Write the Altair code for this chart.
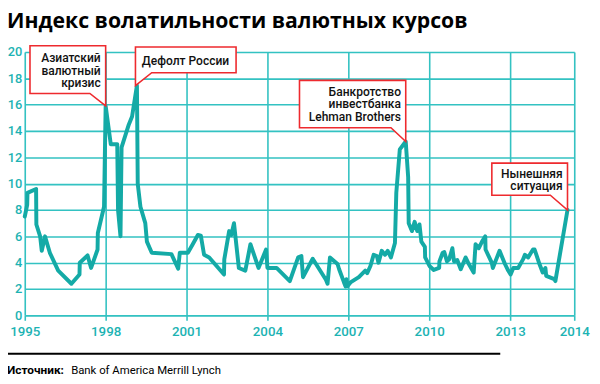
import altair as alt
import pandas as pd

# ---- data (decimal year on the chart's own axis, index value)
years = [1995.00, 1995.09, 1995.10, 1995.42, 1995.43, 1995.57, 1995.63, 1995.75, 1995.93, 1996.24,
         1996.73, 1997.03, 1997.04, 1997.33, 1997.46, 1997.70, 1997.71, 1997.94, 1998.00, 1998.19,
         1998.43, 1998.46, 1998.55, 1998.59, 1998.86, 1998.98, 1999.16, 1999.19, 1999.29, 1999.47,
         1999.53, 1999.71, 2000.44, 2000.69, 2000.75, 2001.05, 2001.23, 2001.42, 2001.53, 2001.65,
         2001.84, 2002.39, 2002.40, 2002.58, 2002.66, 2002.76, 2002.94, 2003.18, 2003.37, 2003.67,
         2003.95, 2004.00, 2004.34, 2004.83, 2005.14, 2005.26, 2005.32, 2005.68, 2006.17, 2006.23,
         2006.32, 2006.60, 2006.66, 2006.84, 2006.90, 2006.93, 2006.96, 2007.08, 2007.39, 2007.63,
         2007.70, 2007.82, 2007.94, 2008.06, 2008.12, 2008.24, 2008.36, 2008.46, 2008.58, 2008.73,
         2008.78, 2008.91, 2009.13, 2009.22, 2009.24, 2009.36, 2009.46, 2009.56, 2009.64, 2009.71,
         2009.84, 2009.85, 2010.01, 2010.17, 2010.37, 2010.38, 2010.50, 2010.56, 2010.66, 2010.74,
         2010.86, 2010.92, 2011.04, 2011.17, 2011.35, 2011.47, 2011.65, 2011.72, 2011.84, 2011.96,
         2012.08, 2012.09, 2012.32, 2012.36, 2012.61, 2012.81, 2012.93, 2013.02, 2013.12, 2013.30,
         2013.48, 2013.55, 2013.67, 2013.85, 2013.91, 2014.09, 2014.21, 2014.31, 2014.34, 2014.64,
         2014.68, 2015.13]
values = [7.5, 8.4, 9.3, 9.6, 6.9, 6.0, 4.9, 6.0, 4.75, 3.4,
          2.4, 3.1, 4.0, 4.55, 3.6, 5.0, 6.25, 8.25, 15.9, 13.0,
          13.0, 8.0, 6.0, 12.75, 14.5, 15.1, 17.45, 10.0, 8.25, 7.0,
          5.6, 4.75, 4.65, 3.55, 4.75, 4.75, 5.4, 6.1, 6.05, 4.6,
          4.4, 3.1, 4.25, 6.4, 6.1, 7.0, 3.6, 3.4, 5.4, 3.6,
          5.0, 3.6, 3.6, 2.6, 4.4, 4.5, 2.9, 4.3, 2.7, 2.4,
          4.4, 3.9, 3.5, 2.5, 2.2, 2.75, 2.2, 2.5, 2.9, 3.4,
          3.2, 3.75, 4.6, 4.5, 4.0, 4.9, 4.6, 4.9, 4.4, 5.5,
          9.3, 12.6, 13.2, 10.5, 7.0, 6.4, 7.1, 6.4, 6.9, 5.6,
          5.2, 4.4, 3.75, 3.45, 3.6, 4.1, 4.75, 4.8, 4.1, 4.25,
          5.1, 4.1, 4.2, 3.5, 4.4, 3.9, 3.25, 5.4, 5.1, 5.6,
          6.0, 5.0, 4.0, 3.6, 4.9, 3.9, 3.4, 3.1, 3.6, 3.6,
          4.25, 4.6, 4.4, 5.0, 5.0, 3.9, 3.25, 3.6, 3.0, 2.75,
          2.6, 8.0]

x_tick_values = [1995, 1998, 2001, 2004, 2007, 2010, 2013, 2015.38]
x_domain = [1995, 2015.38]
y_tick_values = [0, 2, 4, 6, 8, 10, 12, 14, 16, 18, 20]

ann_lines = [["Азиатский", "валютный", "кризис"],
             ["Дефолт России"],
             ["Банкротство", "инвестбанка", "Lehman Brothers"],
             ["Нынешняя", "ситуация"]]
ann_year = [1998.00, 1999.16, 2009.13, 2015.13]
ann_value = [15.9, 17.45, 13.2, 8.0]

title_text = "Индекс волатильности валютных курсов"
source_label = "Источник:"
source_text = "Bank of America Merrill Lynch"

# ---- styles
LINE_C = "#14aaa6"
GRID_C = "#33c2c2"
LABEL_C = "#1db3b3"
RED = "#ee2a2e"
FONT = "Roboto"

# callout outlines (pixel offsets from the anchor point) and text offsets
callout_shapes = [
    "M -76.7 -61 L 0 -61 L 0 0 L -16 -12.7 L -76.7 -12.7 Z",
    "M -1.5 0 L -1.5 -39 L 100.5 -39 L 100.5 -13 L 15 -13 Z",
    "M -107.7 -62 L 0 -62 L 0 0 L -15 -14 L -107.7 -14 Z",
    "M -76.7 -47.5 L 0 -47.5 L 0 0 L -17.4 -15 L -76.7 -15 Z",
]
callout_text_dx = [-5, 93.5, -4.8, -5]
callout_text_dy = [-44.3, -21.3, -46, -32.7]

W, H = 557, 267

df = pd.DataFrame({"year": years, "value": values, "i": list(range(len(years)))})

x_axis = alt.Axis(values=x_tick_values, format="d",
                  labelExpr="datum.value > 2014 ? '2014' : datum.label",
                  grid=True, gridColor=GRID_C, gridWidth=1.6,
                  domain=False, ticks=True, tickSize=5, tickColor=GRID_C,
                  tickWidth=1.6, labelColor=LABEL_C, labelFont=FONT,
                  labelFontSize=13.5, labelFontWeight=500, labelPadding=4,
                  labelFlush=False, labelOverlap=False, title=None)
y_axis = alt.Axis(values=y_tick_values, grid=True, gridColor=GRID_C,
                  gridWidth=1.6, domain=False, ticks=False, tickSize=0,
                  labelColor=LABEL_C, labelFont=FONT, labelFontSize=13,
                  labelFontWeight=500, labelPadding=3, labelOverlap=False,
                  labelBound=False, title=None)
x_scale = alt.Scale(domain=x_domain, nice=False, zero=False)
y_scale = alt.Scale(domain=[0, 20], nice=False, zero=True)


def xe():
    return alt.X("year:Q", scale=x_scale, axis=x_axis)


def ye():
    return alt.Y("value:Q", scale=y_scale, axis=y_axis)


line = alt.Chart(df).mark_line(color=LINE_C, strokeWidth=4, strokeJoin="round",
                               strokeCap="round").encode(
    x=xe(), y=ye(), order="i:Q")

layers = [line]

for k in range(len(ann_lines)):
    adf = pd.DataFrame({"year": [ann_year[k]], "value": [ann_value[k]],
                        "label": [ann_lines[k]]})
    box = alt.Chart(adf).mark_point(shape=callout_shapes[k], size=4, filled=True,
                                    fill="white", stroke=RED, strokeWidth=1.6,
                                    opacity=1, strokeJoin="miter").encode(
        x=xe(), y=ye())
    txt = alt.Chart(adf).mark_text(align="right", baseline="alphabetic",
                                   dx=callout_text_dx[k], dy=callout_text_dy[k],
                                   font=FONT, fontSize=12.2, fontWeight=500,
                                   lineHeight=12.5, color="#111111").encode(
        x=xe(), y=ye(), text="label")
    layers += [box, txt]

one = pd.DataFrame({"t": [title_text], "s1": [source_label], "s2": [source_text]})

title = alt.Chart(one).mark_text(align="left", baseline="alphabetic", font="Open Sans",
                                 fontSize=21.5, fontWeight="bold", color="black").encode(
    x=alt.value(-18), y=alt.value(-24.5), text="t:N")
rule = alt.Chart(one).mark_rule(color="black", strokeWidth=2).encode(
    x=alt.value(-19), x2=alt.value(482), y=alt.value(306))
src1 = alt.Chart(one).mark_text(align="left", baseline="alphabetic", font=FONT,
                                fontSize=12, fontWeight="bold", color="black").encode(
    x=alt.value(-18), y=alt.value(326), text="s1:N")
src2 = alt.Chart(one).mark_text(align="left", baseline="alphabetic", font=FONT,
                                fontSize=11.5, color="black").encode(
    x=alt.value(47), y=alt.value(326), text="s2:N")

layers += [title, rule, src1, src2]

chart = alt.layer(*layers).properties(
    width=W, height=H,
    autosize=alt.AutoSizeParams(type="none"),
    padding={"left": 17, "top": 42, "right": 18, "bottom": 67},
).configure_view(strokeWidth=0, stroke="transparent").configure(background="white"
).configure_axis(labelOverlap=False)

chart.save("out.html", embed_options={"renderer": "svg", "actions": False})
